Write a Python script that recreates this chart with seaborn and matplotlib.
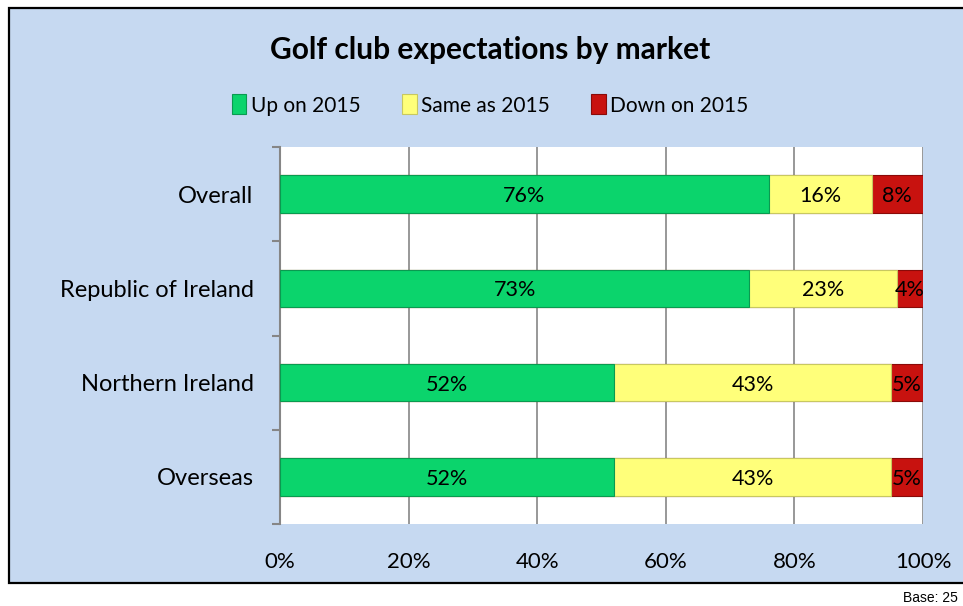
# Golf club expectations by market - stacked horizontal bars

import pandas as pd
import matplotlib.pyplot as plt
import seaborn as sns
from matplotlib.patches import Rectangle
from matplotlib.ticker import FuncFormatter

markets = ['Overall', 'Republic of Ireland', 'Northern Ireland', 'Overseas']
up_on = [76, 73, 52, 52]
same_as = [16, 23, 43, 43]
down_on = [8, 4, 5, 5]

series_names = ['Up on 2015', 'Same as 2015', 'Down on 2015']
colors = ['#0BD46C', '#FFFF7A', '#C8120F']
edges = ['#0A9A50', '#C8C860', '#8A0A08']

df = pd.DataFrame({'market': markets, 'up': up_on, 'same': same_as, 'down': down_on})
df['c_up'] = df['up']
df['c_same'] = df['up'] + df['same']
df['c_down'] = df['up'] + df['same'] + df['down']

sns.set_style('white')
plt.rcParams['font.family'] = ['Lato', 'DejaVu Sans']
plt.rcParams['text.color'] = 'black'
plt.rcParams['xtick.color'] = 'black'
plt.rcParams['ytick.color'] = 'black'

fig = plt.figure(figsize=(9.63, 6.06), dpi=100)
fig.patch.set_facecolor('white')

# outer chart frame
frame = Rectangle((9 / 963, 1 - 583 / 606), 1.1, (583 - 8) / 606, transform=fig.transFigure,
                  facecolor='#C6D9F1', edgecolor='black', linewidth=1.6, zorder=-10)
fig.patches.append(frame)

ax = fig.add_axes([280 / 963, 1 - 524 / 606, (923 - 280) / 963, (524 - 147) / 606])
ax.set_facecolor('white')

# draw cumulative totals back to front so they look stacked
for col, c, e in zip(['c_down', 'c_same', 'c_up'], colors[::-1], edges[::-1]):
    sns.barplot(data=df, x=col, y='market', orient='h', color=c, width=0.4,
                edgecolor=e, linewidth=0.8, saturation=1, ax=ax, zorder=3)

# value labels in the middle of each piece
for i in range(len(markets)):
    starts = [0, df['c_up'][i], df['c_same'][i]]
    vals = [up_on[i], same_as[i], down_on[i]]
    for s, v in zip(starts, vals):
        ax.text(s + v / 2, i + 0.02, f'{v}%', ha='center', va='center', fontsize=15.5,
                color='black', zorder=5)

ax.set_xlim(0, 100)
ax.set_ylim(3.5, -0.5)
ax.set_xticks(range(0, 101, 20))
ax.xaxis.set_major_formatter(FuncFormatter(lambda v, p: f'{int(v)}%'))
ax.tick_params(axis='x', length=0, pad=20, labelsize=16)
ax.tick_params(axis='y', which='major', length=0, pad=19, labelsize=17)
ax.set_yticks([-0.5, 0.5, 1.5, 2.5, 3.5], minor=True)
ax.tick_params(axis='y', which='minor', left=True, length=6, width=1.5, color='#868686',
               direction='out')
ax.grid(axis='x', color='#868686', linewidth=1.2, zorder=0)
ax.set_axisbelow(True)
ax.set_xlabel('')
ax.set_ylabel('')
for side in ['top', 'right', 'bottom']:
    ax.spines[side].set_visible(False)
ax.spines['left'].set_color('#868686')
ax.spines['left'].set_linewidth(1.5)

fig.text(490 / 963, 1 - 50 / 606, 'Golf club expectations by market', ha='center', va='center',
         fontsize=21.5, fontweight='bold')

handles = [Rectangle((0, 0), 1, 1, facecolor=c, edgecolor=e, linewidth=0.8)
           for c, e in zip(colors, edges)]
fig.legend(handles, series_names, loc='center', bbox_to_anchor=(490 / 963, 1 - 105 / 606),
           ncol=3, frameon=False, fontsize=15, handlelength=0.7, handleheight=1.1,
           handletextpad=0.2, columnspacing=2.0)

fig.text(903 / 963, 1 - 598 / 606, 'Base: 25', ha='left', va='center', fontsize=10,
         family=['Liberation Sans', 'DejaVu Sans'])

plt.savefig('out.png', dpi=100)
